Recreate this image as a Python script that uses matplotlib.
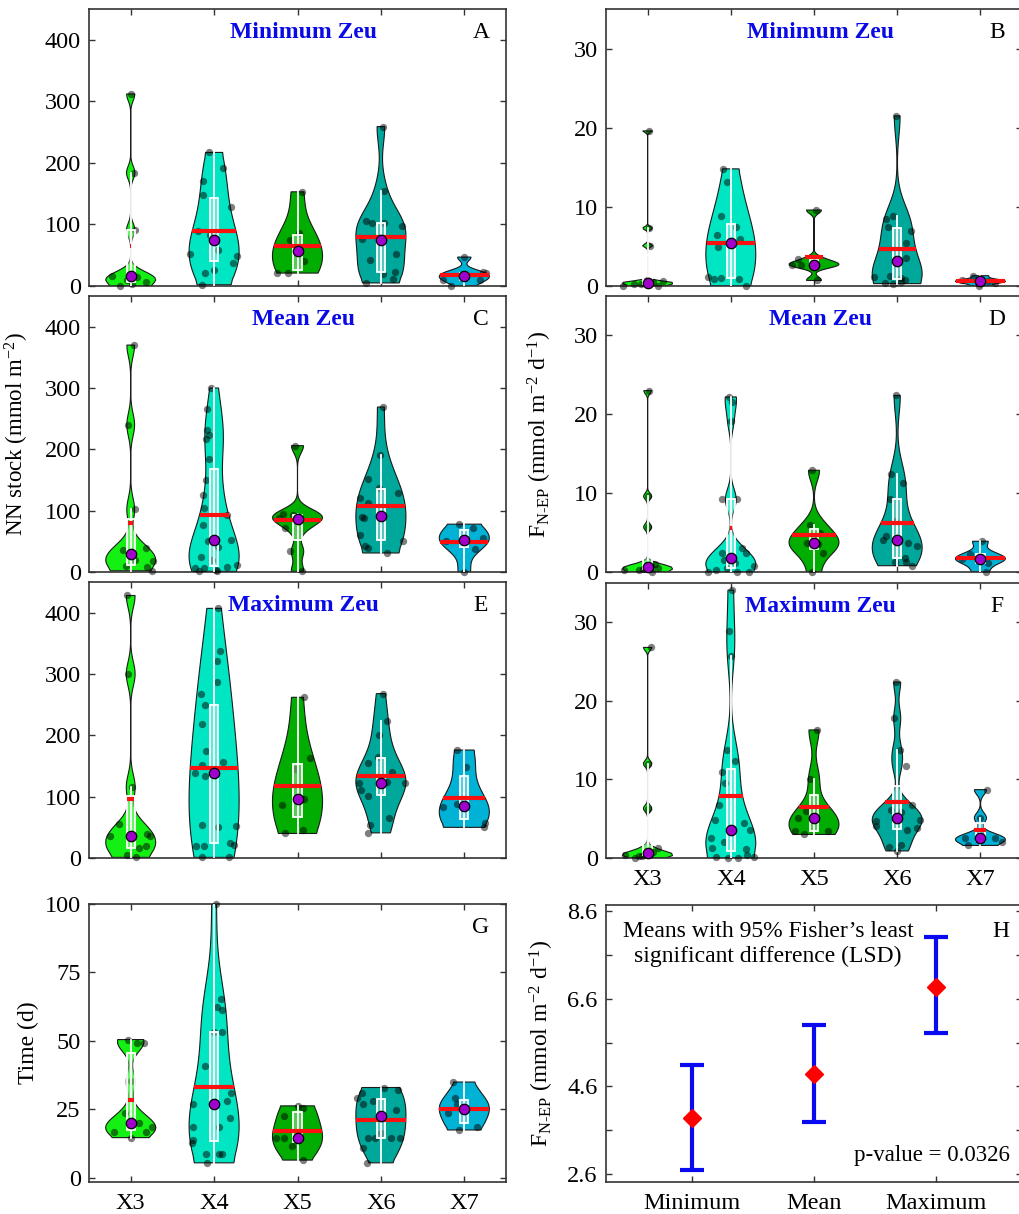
import numpy as np
import matplotlib
matplotlib.use('Agg')
import matplotlib.pyplot as plt
from matplotlib.patches import Rectangle

plt.rcParams['font.family'] = 'Liberation Serif'
plt.rcParams['mathtext.fontset'] = 'custom'
plt.rcParams['mathtext.rm'] = 'Liberation Serif'
plt.rcParams['mathtext.it'] = 'Liberation Serif:italic'
plt.rcParams['font.size'] = 17

groups = ['X3', 'X4', 'X5', 'X6', 'X7']
colors = ['#14F014', '#00E6C3', '#00AD00', '#00A89B', '#00B2D6']

# NN stock (mmol m-2), one list per group, with the horizontal jitter of each dot
nn_min = [[312, 184, 91, 17, 0, 6.5, 10, 17, 15, 4],
          [217, 191, 170, 148, 128, 89, 52, 59, 49, 37, 21, 26, 2, 74, 83],
          [153, 75, 86, 41, 21, 21, 57],
          [259, 154, 106, 102, 102, 98, 76, 75, 42, 52, 23, 5, 20, 11],
          [47, 10, 0, 22, 21, 10, 16]]
nn_min_jit = [[0, .04, .05, -.22, -.13, .18, -.05, 0, .08, .02],
              [-.06, .11, -.13, -.13, .2, -.19, -.29, .05, .28, .23, -.11, 0, -.15, 0, -.05],
              [.05, -.09, .02, .08, -.24, -.11, 0],
              [.02, .04, -.18, -.11, .04, .25, -.23, 0, -.13, .18, .17, -.18, .03, .15],
              [0, -.25, -.16, .22, .26, .19, 0]]

nn_mean = [[370, 240, 102, 36, 39, 18, 8, 2, 29, 10, 20],
           [300, 265, 231, 217, 223, 185, 150, 125, 104, 93, 77, 52, 50, 52, 25, 6, 2, 6, 1, 8, 12, 3, 20, 40],
           [206, 94, 93, 88, 71, 34, 1, 86],
           [269, 190, 152, 137, 128, 121, 113, 90, 88, 91, 61, 50, 42, 39, 31],
           [78, 72, 51, 55, 37, 0, 52]]
nn_mean_jit = [[.04, -.03, .05, -.09, .18, .27, .19, .26, 0, -.06, .05],
               [-.04, -.09, -.08, -.1, -.06, -.06, -.1, -.13, -.12, .15, -.13, .2, -.07, 0, -.16, -.23, -.18, -.12, .04, .15, .28, .02, -.02, .05],
               [-.03, -.17, -.05, -.22, -.15, -.09, .05, 0],
               [.03, -.01, -.15, -.02, .2, -.25, -.16, -.23, -.2, 0, -.25, .27, -.19, -.15, .07],
               [-.06, .1, -.22, .22, .13, 0, 0]]

nn_max = [[428, 300, 116, 56, 36, 39, 36, 19, 16, 5, 1],
          [407, 338, 321, 287, 268, 250, 219, 175, 157, 151, 139, 134, 139, 53, 50, 52, 19, 19, 24, 22, 2, 1],
          [262, 163, 145, 87, 96, 40, 46, 96],
          [268, 223, 201, 165, 155, 141, 124, 122, 111, 122, 101, 66, 53, 41, 122],
          [176, 148, 83, 88, 57, 50, 85]]
nn_max_jit = [[-.05, -.03, .01, -.14, -.25, .19, .23, .18, .1, -.04, .06],
              [.05, .07, .04, .04, -.16, -.11, -.15, -.1, .11, -.14, -.23, -.11, 0, -.15, .05, .26, -.22, -.12, .19, .24, -.14, .18],
              [.08, .15, -.03, -.19, .08, -.15, .06, 0],
              [.02, .07, -.02, -.04, -.16, .13, .07, -.26, -.24, .29, -.15, .1, -.13, -.15, 0],
              [-.09, .02, -.26, -.09, .25, .24, 0]]

# F N-EP (mmol m-2 d-1)
fnep_min = [[19.6, 7.3, 5.1, 0, 0.3, 0.4, 0, 0.6, 0.4, 0.2, 0.5],
            [14.8, 13.1, 8.9, 7.5, 6.4, 5.9, 4.9, 5.4, 1.2, 0.9, 1.0, 0.9, 0],
            [9.6, 0.7, 2.7, 2.6, 3.4, 2.7],
            [21.5, 8.8, 8.5, 7.5, 7.0, 5.4, 3.5, 3.2, 1.2, 1.3, 0.4, 0.3, 0.8, 0.5, 1.0],
            [0.8, 1.3, 0.6, 0, 0.6, 0.4]]
fnep_min_jit = [[.02, .02, .03, -.29, -.16, -.03, .13, .18, 0, -.08, .07],
                [-.09, -.04, -.12, .06, -.17, .11, -.15, 0, -.27, -.2, -.12, .1, .18],
                [.02, .04, -.26, -.16, -.19, 0],
                [-.01, -.05, -.13, -.11, .16, .11, .11, 0, -.28, -.09, -.15, -.05, .09, .05, .04],
                [-.22, -.09, 0, -.02, .09, .17]]

fnep_mean = [[23, 9.6, 5.7, 0.3, 1.0, 0, 0.6, 0.2, 0.4, 0.5, 0.8],
             [22.2, 21.6, 19.1, 9.2, 9.2, 2.4, 3.1, 2.4, 1.8, 0, 0.3, 0, 0, 0.8, 0.5, 1.2, 1.5],
             [12.9, 6.0, 5.0, 3.7, 3.5, 2.4, 0, 3.6],
             [22.4, 12.4, 11.3, 9.2, 6.5, 4.6, 4.1, 3.7, 3.3, 3.9, 1.3, 1.8, 1.3, 0.8],
             [3.9, 2.3, 1.7, 1.2, 0, 1.7]]
fnep_mean_jit = [[.02, 0, 0, -.28, .09, .05, 0, -.1, -.05, .12, .04],
                 [-.02, .02, 0, -.1, .08, -.1, .13, .18, 0, -.27, -.18, .07, .22, .28, -.05, .05, -.08],
                 [-.03, -.05, .07, -.08, .05, .11, -.03, 0],
                 [-.02, -.07, .07, -.09, -.03, -.13, -.17, .13, .24, 0, -.03, .09, .1, .18],
                 [.02, -.13, -.22, .09, .07, 0]]

fnep_max = [[26.8, 12.0, 6.3, 0.4, 0, 0.2, 1.3, 0.6, 0.8, 0.3, 0.5],
            [34.1, 28.9, 25.7, 13.7, 12.4, 10.9, 9.5, 6.8, 4.9, 4.5, 3.6, 2.6, 1.3, 0.1, 0, 0, 1.1, 0.4, 0.1, 3.5, 2.0],
            [16.3, 10.1, 6.0, 5.1, 3.4, 3.0, 3.4, 5.1],
            [22.4, 17.8, 13.7, 11.7, 6.7, 6.1, 4.7, 4.1, 4.9, 3.6, 3.8, 1.4, 1.6, 0.9, 5.4, 5.8],
            [8.7, 5.1, 2.6, 1.6, 2.6, 2.0, 2.6]]
fnep_max_jit = [[.04, 0, 0, -.27, -.15, -.07, .13, 0, .06, -.1, .03],
                [.02, -.02, 0, -.05, .05, -.1, -.07, -.14, -.19, .16, .23, -.24, -.23, -.18, -.03, .09, .18, .2, .28, 0, -.08],
                [.04, -.05, -.1, -.19, -.23, -.12, .17, 0],
                [-.01, -.04, .03, .1, .18, -.07, -.26, -.25, .28, .12, .24, -.1, .05, 0, 0, .05],
                [.08, 0, -.19, -.15, .18, .26, 0]]

# Time (d)
time_d = [[50.5, 49.3, 49.3, 35.2, 23.6, 16.9, 19.9, 16.9, 18.7, 14.7, 19.7],
          [100, 65.4, 62.3, 61.2, 53.2, 53.2, 41, 27, 30.9, 27.9, 21.8, 18.7, 12.6, 18.7, 8.6, 8.6, 8.6, 5.5, 26.9, 14],
          [26.3, 25.4, 22.6, 14.7, 14.7, 11.6, 6.5, 14.7],
          [29.1, 30.9, 26.9, 27.9, 33, 32.2, 24.8, 14.4, 14.7, 14.4, 14.7, 10.8, 5.5, 16.5, 22.7],
          [35, 29.1, 23.6, 27, 17.5, 18.7, 25.2]]
time_d_jit = [[-.03, .08, .16, 0, -.07, -.2, .1, .18, .26, 0, 0],
              [.02, .08, .03, .09, 0, .1, -.11, -.25, .2, .15, .19, -.25, -.26, .06, -.1, .06, .09, -.09, 0, -.25],
              [.01, .06, -.16, -.26, -.16, -.06, .07, 0],
              [-.29, -.23, -.22, -.1, .04, .2, .18, -.15, -.07, .12, .23, -.21, -.17, 0, 0],
              [-.13, -.11, -.2, -.09, -.06, .15, 0]]

# LSD means for F N-EP by Zeu definition
lsd_names = ['Minimum', 'Mean', 'Maximum']
lsd_mean = [3.89, 4.89, 6.88]
lsd_low = [2.70, 3.79, 5.81]
lsd_high = [5.10, 6.01, 8.00]


def ksdensity(d):
    # gaussian kernel, normal-approximation bandwidth on a 100 point grid
    n = len(d)
    sig = np.median(np.abs(d - np.median(d))) / 0.6745
    if sig <= 0:
        sig = d.max() - d.min()
    u = sig * (4.0 / (3.0 * n)) ** 0.2
    xi = np.linspace(d.min() - 3 * u, d.max() + 3 * u, 100)
    f = np.exp(-0.5 * ((xi[:, None] - d[None, :]) / u) ** 2).sum(axis=1) / (n * u * np.sqrt(2 * np.pi))
    return xi, f


def violin(ax, pos, data, jit, color):
    d = np.asarray(data, float)
    xi, f = ksdensity(d)
    keep = (xi >= d.min()) & (xi <= d.max())
    val = xi[keep]
    dens = f[keep]
    val[0] = d.min()
    val[-1] = d.max()
    val = np.concatenate([[val[0]], val, [val[-1]]])
    dens = np.concatenate([[0], dens, [0]])
    w = 0.3 / dens.max()
    ax.fill(np.concatenate([pos + dens * w, (pos - dens * w)[::-1]]),
            np.concatenate([val, val[::-1]]), fc=color, ec='#1a1a1a', lw=0.8, zorder=2)
    ax.scatter(pos + np.asarray(jit), d, s=28, c='k', alpha=0.5, lw=0, zorder=3, clip_on=False)

    q1, q3 = np.quantile(d, [0.25, 0.75], method='hazen')
    iqr = q3 - q1
    lo = d[d >= q1 - 1.5 * iqr].min()
    hi = d[d <= q3 + 1.5 * iqr].max()
    ax.plot([pos, pos], [lo, hi], color='w', lw=1.3, zorder=4)
    ax.add_patch(Rectangle((pos - 0.05, q1), 0.1, q3 - q1, fc=(1, 1, 1, 0.35),
                           ec='w', lw=1.3, zorder=4))

    m = d.mean()
    mw = np.interp(m, val, dens) * w
    ax.plot([pos - mw, pos + mw], [m, m], color='#FF1010', lw=3, solid_capstyle='butt', zorder=5)
    ax.plot(pos, np.median(d), 'o', ms=7.5, mfc='#A000CC', mec='k', mew=0.9, zorder=6, clip_on=False)


def style_axes(ax):
    ax.tick_params(direction='in', top=True, right=True, length=4, width=1,
                   color='#333333', pad=6, labelsize=17.5)
    ax.tick_params(axis='x', pad=8)
    for s in ax.spines.values():
        s.set_linewidth(1.2)
        s.set_color('#333333')


W, H = 1019., 1214.


def rect(l, t, r, b):
    return [l / W, 1 - b / H, (r - l) / W, (b - t) / H]


fig = plt.figure(figsize=(10.19, 12.14), dpi=100)

panels = [
    (rect(89, 9, 506, 286), nn_min, nn_min_jit, (0, 450), [0, 100, 200, 300, 400], 'Minimum Zeu', 'A', False),
    (rect(606, 9, 1022, 286), fnep_min, fnep_min_jit, (0, 35), [0, 10, 20, 30], 'Minimum Zeu', 'B', False),
    (rect(89, 296, 506, 572), nn_mean, nn_mean_jit, (0, 450), [0, 100, 200, 300, 400], 'Mean Zeu', 'C', False),
    (rect(606, 296, 1022, 572), fnep_mean, fnep_mean_jit, (0, 35), [0, 10, 20, 30], 'Mean Zeu', 'D', False),
    (rect(89, 582, 506, 858), nn_max, nn_max_jit, (0, 450), [0, 100, 200, 300, 400], 'Maximum Zeu', 'E', False),
    (rect(606, 583, 1022, 858), fnep_max, fnep_max_jit, (0, 35), [0, 10, 20, 30], 'Maximum Zeu', 'F', True),
    (rect(89, 904, 506, 1182), time_d, time_d_jit, (-1.5, 100), [0, 25, 50, 75, 100], None, 'G', True),
]

axes = []
for box, data, jit, ylim, yticks, title, letter, xlab in panels:
    ax = fig.add_axes(box)
    for i in range(5):
        violin(ax, i + 1, data[i], jit[i], colors[i])
    ax.set_xlim(0.5, 5.5)
    ax.set_ylim(*ylim)
    ax.set_xticks(range(1, 6))
    ax.set_xticklabels(groups if xlab else [])
    ax.set_yticks(yticks)
    style_axes(ax)
    if title:
        ax.text(0.515, 0.915, title, transform=ax.transAxes, ha='center', va='center',
                color='#0A0AE6', fontweight='bold', fontsize=17)
    ax.text(0.94, 0.915, letter, transform=ax.transAxes, ha='center', va='center', fontsize=17)
    axes.append(ax)

fnep_label = 'F$_{\\mathregular{N\u2010EP}}$ (mmol m$^{\\mathregular{-2}}$ d$^{\\mathregular{-1}}$)'
axes[2].set_ylabel(r'NN stock (mmol m$^{\mathregular{-2}}$)', fontsize=16.5)
axes[2].yaxis.set_label_coords(-0.14, 0.5)
axes[3].set_ylabel(fnep_label, fontsize=17)
axes[3].yaxis.set_label_coords(-0.125, 0.5)
axes[6].set_ylabel('Time (d)', fontsize=17)
axes[6].yaxis.set_label_coords(-0.12, 0.5)

# LSD comparison of the three Zeu definitions
axh = fig.add_axes(rect(606, 905, 1022, 1182))
xh = np.arange(1, 4)
mh = np.array(lsd_mean)
axh.errorbar(xh, mh, yerr=[mh - np.array(lsd_low), np.array(lsd_high) - mh], fmt='none',
             ecolor='#0A0AF0', elinewidth=3, capsize=8.5, capthick=3, zorder=2)
axh.plot(xh, mh, 'D', color='#FF0000', ms=9, zorder=3)
axh.set_xlim(0.3, 3.7)
axh.set_ylim(2.42, 8.74)
axh.set_xticks(xh)
axh.set_xticklabels(lsd_names)
yt = np.arange(2.6, 8.7, 1.0)
axh.set_yticks(yt)
axh.set_yticklabels(['%.1f' % v if i % 2 == 0 else '' for i, v in enumerate(yt)])
style_axes(axh)
axh.set_ylabel(fnep_label, fontsize=17)
axh.yaxis.set_label_coords(-0.12, 0.5)
axh.text(0.39, 0.86, 'Means with 95% Fisher\u2019s least\nsignificant difference (LSD)',
         transform=axh.transAxes, ha='center', va='center', fontsize=17, linespacing=1.25)
axh.text(0.97, 0.094, 'p-value = 0.0326', transform=axh.transAxes, ha='right', va='center', fontsize=16.5)
axh.text(0.95, 0.906, 'H', transform=axh.transAxes, ha='center', va='center', fontsize=17)

fig.savefig('out.png', dpi=100)
